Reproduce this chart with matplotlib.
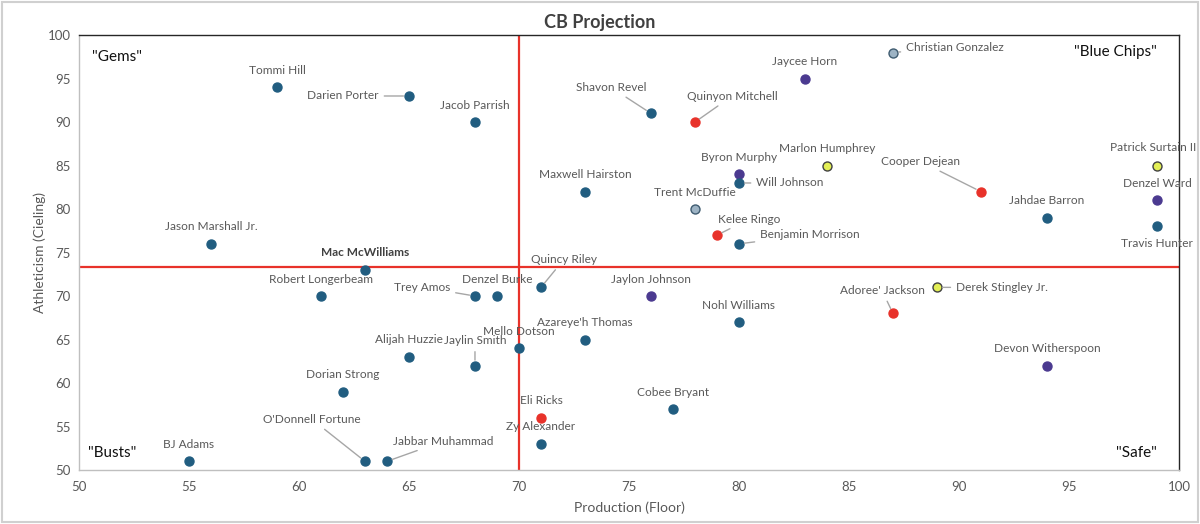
import matplotlib
matplotlib.use("Agg")
import matplotlib.pyplot as plt
from matplotlib.patches import Rectangle

plt.rcParams['font.family'] = ['Lato', 'DejaVu Sans']

# ---- data ----
players = ["Tommi Hill", "Darien Porter", "Jacob Parrish", "Jason Marshall Jr.", "Mac McWilliams",
           "Robert Longerbeam", "Trey Amos", "Denzel Burke", "Quincy Riley", "Jaylon Johnson",
           "Nohl Williams", "Adoree' Jackson", "Derek Stingley Jr.", "Devon Witherspoon",
           "Alijah Huzzie", "Jaylin Smith", "Mello Dotson", "Azareye'h Thomas", "Dorian Strong",
           "O'Donnell Fortune", "Jabbar Muhammad", "BJ Adams", "Eli Ricks", "Zy Alexander",
           "Cobee Bryant", "Shavon Revel", "Quinyon Mitchell", "Jaycee Horn", "Christian Gonzalez",
           "Maxwell Hairston", "Byron Murphy", "Will Johnson", "Marlon Humphrey", "Trent McDuffie",
           "Kelee Ringo", "Benjamin Morrison", "Cooper Dejean", "Jahdae Barron",
           "Patrick Surtain II", "Denzel Ward", "Travis Hunter"]
production = [59, 65, 68, 56, 63, 61, 68, 69, 71, 76, 80, 87, 89, 94, 65, 68, 70, 73, 62,
              63, 64, 55, 71, 71, 77, 76, 78, 83, 87, 73, 80, 80, 84, 78, 79, 80, 91, 94, 99, 99, 99]
athleticism = [94, 93, 90, 76, 73, 70, 70, 70, 71, 70, 67, 68, 71, 62, 63, 62, 64, 65, 59,
               51, 51, 51, 56, 53, 57, 91, 90, 95, 98, 82, 84, 83, 85, 80, 77, 76, 82, 79, 85, 81, 78]
group = ["prospect", "prospect", "prospect", "prospect", "prospect", "prospect", "prospect",
         "prospect", "prospect", "purple", "prospect", "red", "yellow", "purple", "prospect",
         "prospect", "prospect", "prospect", "prospect", "prospect", "prospect", "prospect",
         "red", "prospect", "prospect", "prospect", "red", "purple", "light", "prospect",
         "purple", "prospect", "yellow", "light", "red", "prospect", "red", "prospect",
         "yellow", "purple", "prospect"]
x_split = 70
y_split = 73.3
quadrants = ['"Gems"', '"Blue Chips"', '"Busts"', '"Safe"']

# ---- styles ----
face = {"prospect": "#215d80", "purple": "#4b3a90", "red": "#e8322a",
        "yellow": "#e3ef55", "light": "#9db3c4"}
edge = {"prospect": "#215d80", "purple": "#4b3a90", "red": "#e8322a",
        "yellow": "#404040", "light": "#3f5b70"}

# label offsets in pixels (dx, dy) and whether a leader line is drawn
offsets = {
    "Darien Porter": (-66, 0, True), "Trey Amos": (-53, 9, True), "Quincy Riley": (23, 28, True),
    "Adoree' Jackson": (-11, 23, True), "Derek Stingley Jr.": (65, 0, True),
    "Jaylin Smith": (0, 25, True), "O'Donnell Fortune": (-53, 42, True),
    "Jabbar Muhammad": (56, 20, True), "Shavon Revel": (-40, 26, True),
    "Quinyon Mitchell": (37, 26, True), "Christian Gonzalez": (62, 5, True),
    "Will Johnson": (51, 0, True), "Kelee Ringo": (32, 16, True),
    "Benjamin Morrison": (71, 9, True), "Cooper Dejean": (-60, 30, True),
    "Travis Hunter": (0, -17, False), "Patrick Surtain II": (-4, 18, False),
}

fig = plt.figure(figsize=(12, 5.24), dpi=100)
ax = fig.add_axes([0.0658, 0.103, 0.9167, 0.830])

fig.patches.append(Rectangle((0.002, 0.003), 0.996, 0.994, transform=fig.transFigure,
                             fill=False, edgecolor="#d0d0d0", linewidth=1.5))

ax.set_xlim(50, 100)
ax.set_ylim(50, 100)
ax.set_xticks(range(50, 101, 5))
ax.set_yticks(range(50, 101, 5))
ax.tick_params(axis="x", length=0, colors="#595959", labelsize=9.5, pad=8)
ax.tick_params(axis="y", length=0, colors="#595959", labelsize=9.5, pad=6)
for s in ["left", "bottom"]:
    ax.spines[s].set_color("#bfbfbf")
    ax.spines[s].set_linewidth(1)
for s in ["top", "right"]:
    ax.spines[s].set_color("#262626")
    ax.spines[s].set_linewidth(1)

ax.axvline(x_split, color="#e8322a", lw=1.6, zorder=1)
ax.axhline(y_split, color="#e8322a", lw=1.6, zorder=1)

for name, xv, yv, g in zip(players, production, athleticism, group):
    ax.scatter(xv, yv, s=42, c=face[g], edgecolors=edge[g], linewidths=1.0, zorder=3)
    dx, dy, lead = offsets.get(name, (0, 17, False))
    bold = name == "Mac McWilliams"
    kw = dict(textcoords="offset pixels", xytext=(dx, dy), ha="center", va="center",
              fontsize=8.6, color="#404040" if bold else "#595959",
              fontweight="bold" if bold else "normal", zorder=4)
    if lead:
        kw["arrowprops"] = dict(arrowstyle="-", color="#a6a6a6", lw=1.0,
                                shrinkA=2, shrinkB=4)
    ax.annotate(name, (xv, yv), **kw)

qk = dict(transform=ax.transAxes, fontsize=11, color="#111111")
ax.text(0.012, 0.949, quadrants[0], ha="left", va="center", **qk)
ax.text(0.980, 0.961, quadrants[1], ha="right", va="center", **qk)
ax.text(0.008, 0.039, quadrants[2], ha="left", va="center", **qk)
ax.text(0.980, 0.039, quadrants[3], ha="right", va="center", **qk)

ax.set_xlabel("Production (Floor)", fontsize=10, color="#595959", labelpad=6)
ax.set_ylabel("Athleticism (Cieling)", fontsize=10, color="#595959", labelpad=1)
fig.text(0.5, 0.958, "CB Projection", ha="center", va="center", fontsize=13,
         fontweight="bold", color="#404040")

fig.savefig("out.png", dpi=100)
